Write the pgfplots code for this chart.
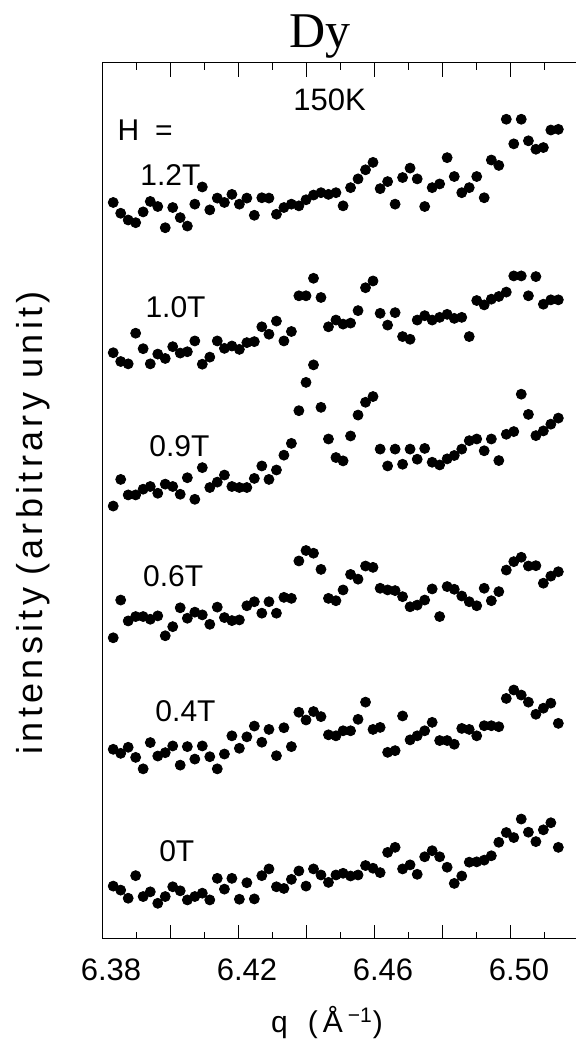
\documentclass[border=0pt]{standalone}
\usepackage{fontspec}
\setmainfont{Liberation Sans}
\newfontfamily\titlefont{Liberation Serif}
\newfontfamily\ylabfont[LetterSpace=12]{Liberation Sans}
\usepackage{pgfplots}
\usepackage{pgfplotstable}
\pgfplotsset{compat=1.18}

% columns: q, then intensity (offset) for H = 0, 0.4, 0.6, 0.9, 1.0, 1.2 T
\pgfplotstableread{
q      h0   h04  h06   h09   h10   h12
6.3833 1.57 5.63 8.94  12.85 17.40 21.86
6.3855 1.45 5.51 10.06 13.64 17.14 21.54
6.3877 1.21 5.69 9.44  13.18 17.07 21.34
6.3899 1.88 5.39 9.57  13.18 17.98 21.26
6.3921 1.26 5.05 9.57  13.35 17.52 21.58
6.3942 1.40 5.83 9.49  13.43 17.07 21.89
6.3964 1.06 5.43 9.59  13.23 17.36 21.74
6.3986 1.26 5.53 9.00  13.50 17.23 21.11
6.4008 1.55 5.73 9.27  13.43 17.58 21.71
6.4030 1.43 5.16 9.83  13.20 17.39 21.41
6.4051 1.16 5.71 9.52  13.69 17.43 21.16
6.4073 1.26 5.34 9.70  13.05 17.75 21.81
6.4095 1.36 5.73 9.62  13.99 17.06 22.32
6.4117 1.16 5.41 9.34  13.40 17.27 21.64
6.4139 1.80 5.05 9.85  13.56 17.75 21.99
6.4160 1.48 5.49 9.54  13.77 17.53 21.86
6.4182 1.80 6.03 9.45  13.43 17.60 22.10
6.4204 1.18 5.66 9.47  13.40 17.50 21.81
6.4226 1.67 6.00 9.89  13.40 17.70 21.99
6.4248 1.19 6.32 10.01 13.67 17.73 21.48
6.4270 1.88 5.84 9.67  14.04 18.17 22.00
6.4291 2.08 6.22 10.01 13.64 17.95 21.99
6.4313 1.55 5.44 9.67  13.92 18.34 21.51
6.4335 1.50 6.27 10.14 14.36 17.75 21.71
6.4357 1.77 5.71 10.11 14.71 18.03 21.81
6.4379 2.02 6.73 11.22 15.68 19.09 21.76
6.4400 1.57 6.50 11.53 16.52 19.09 21.94
6.4422 2.08 6.75 11.45 17.04 19.61 22.08
6.4444 1.90 6.60 10.97 15.78 19.04 22.15
6.4466 1.68 6.06 10.11 14.84 18.17 22.10
6.4488 1.90 6.03 10.04 14.29 18.37 22.15
6.4509 1.95 6.18 10.36 14.19 18.25 21.76
6.4531 1.87 6.18 10.82 14.93 18.28 22.30
6.4553 1.90 6.52 10.68 15.55 18.65 22.56
6.4575 2.18 7.03 11.07 15.93 19.33 22.83
6.4597 2.10 6.22 11.03 16.10 19.53 23.05
6.4618 1.97 6.28 10.41 14.54 18.57 22.27
6.4640 2.57 5.54 10.36 14.04 18.22 22.48
6.4662 2.72 5.59 10.34 14.54 18.59 21.81
6.4684 2.08 6.62 10.16 14.09 17.88 22.60
6.4706 2.20 5.91 9.86  14.54 17.80 22.88
6.4727 1.92 6.03 9.91  14.24 18.37 22.56
6.4749 2.44 6.18 10.06 14.56 18.50 21.74
6.4771 2.62 6.43 10.39 14.15 18.37 22.30
6.4793 2.44 5.89 9.57  14.07 18.45 22.41
6.4815 2.13 5.89 10.46 14.25 18.54 23.19
6.4836 1.65 5.78 10.38 14.35 18.42 22.63
6.4858 1.87 6.25 10.18 14.54 18.45 22.15
6.4880 2.28 6.22 10.01 14.79 17.88 22.30
6.4902 2.29 6.03 9.89  14.84 18.95 22.63
6.4924 2.34 6.33 10.41 14.49 18.82 22.00
6.4945 2.47 6.33 10.04 14.84 18.99 23.12
6.4967 2.87 6.30 10.31 14.20 19.07 22.96
6.4989 3.16 7.14 10.95 14.98 19.20 24.33
6.5011 3.01 7.39 11.20 15.06 19.68 23.60
6.5033 3.56 7.24 11.33 16.17 19.68 24.33
6.5054 3.17 7.03 11.07 15.57 19.09 23.69
6.5076 2.89 6.67 11.08 14.94 19.66 23.44
6.5098 3.24 6.85 10.56 15.08 18.84 23.49
6.5120 3.45 7.00 10.77 15.28 18.97 24.01
6.5142 2.72 6.40 10.90 15.46 18.97 24.03
}\scandata

\newcommand{\lbl}{\fontsize{15}{17}\selectfont}

\begin{document}
\begin{tikzpicture}
\begin{axis}[
    width=237pt, height=438pt, scale only axis,
    xmin=6.38, xmax=6.5194, ymin=0, ymax=26,
    clip=false,
    xtick={6.38,6.40,6.42,6.44,6.46,6.48,6.50},
    xticklabels={6.38,,6.42,,6.46,,6.50},
    minor xtick={6.39,6.41,6.43,6.45,6.47,6.49,6.51},
    ytick=\empty,
    minor ytick={1,2,...,25},
    tick align=inside,
    major tick length=7pt,
    minor tick length=3.5pt,
    tick style={black, line width=0.5pt},
    axis line style={line width=0.5pt},
    xticklabel style={font=\fontsize{15.5}{18}\selectfont, anchor=base, yshift=-20.5pt, xshift=4.5pt},
]
\addplot[only marks, mark=*, mark size=2.5pt, black] table[x=q, y=h0]  {\scandata};
\addplot[only marks, mark=*, mark size=2.5pt, black] table[x=q, y=h04] {\scandata};
\addplot[only marks, mark=*, mark size=2.5pt, black] table[x=q, y=h06] {\scandata};
\addplot[only marks, mark=*, mark size=2.5pt, black] table[x=q, y=h09] {\scandata};
\addplot[only marks, mark=*, mark size=2.5pt, black] table[x=q, y=h10] {\scandata};
\addplot[only marks, mark=*, mark size=2.5pt, black] table[x=q, y=h12] {\scandata};

% field labels
\node[anchor=base west, inner sep=0pt, font=\lbl] at (rel axis cs:0.032,0.912) {H\hspace{8pt}=};
\node[anchor=base west, inner sep=0pt, font=\fontsize{15.5}{18}\selectfont] at (rel axis cs:0.403,0.946) {150K};
\node[anchor=base west, inner sep=0pt, font=\lbl] at (rel axis cs:0.080,0.860) {1.2T};
\node[anchor=base west, inner sep=0pt, font=\lbl] at (rel axis cs:0.091,0.709) {1.0T};
\node[anchor=base west, inner sep=0pt, font=\lbl] at (rel axis cs:0.099,0.551) {0.9T};
\node[anchor=base west, inner sep=0pt, font=\lbl] at (rel axis cs:0.086,0.402) {0.6T};
\node[anchor=base west, inner sep=0pt, font=\lbl] at (rel axis cs:0.112,0.248) {0.4T};
\node[anchor=base west, inner sep=0pt, font=\lbl] at (rel axis cs:0.120,0.088) {0T};

% title and axis labels
\node[anchor=base, font=\titlefont\fontsize{25}{28}\selectfont] at (rel axis cs:0.46,1.0171) {Dy};
\node[anchor=center, rotate=90, font=\ylabfont\fontsize{18}{20}\selectfont] at (rel axis cs:-0.145,0.475) {intensity\hspace{6pt}(arbitrary unit)};
\node[anchor=base, font=\fontsize{15}{18}\selectfont] at (rel axis cs:0.4747,-0.1073) {q\hspace{10pt}(\,Å\,\textsuperscript{−1})};
\end{axis}
\pgfresetboundingbox
\path[use as bounding box] ([xshift=-51pt,yshift=-50.5pt]current axis.south west) rectangle ([yshift=31.5pt]current axis.north east);
\end{tikzpicture}
\end{document}
